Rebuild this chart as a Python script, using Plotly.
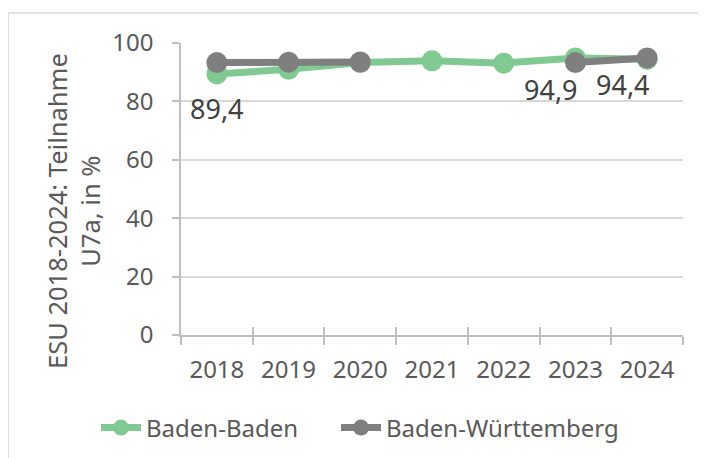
import plotly.graph_objects as go

years = ["2018", "2019", "2020", "2021", "2022", "2023", "2024"]
baden_baden = [89.4, 91.0, 93.3, 93.9, 93.1, 94.9, 94.4]
baden_wuerttemberg = [93.3, 93.4, 93.5, None, None, 93.3, 94.9]
label_years = ["2018", "2023", "2024"]
label_values = [89.4, 94.9, 94.4]
label_texts = ["89,4", "94,9", "94,4"]
y_ticks = [0, 20, 40, 60, 80, 100]

GREEN = "#80C992"
GREY = "#7F7F7F"
FONT = "Noto Sans"
AXIS_COL = "#BFBFBF"
GRID_COL = "#D9D9D9"

# page has an 8px body margin; plot area in page pixels: x 181..683, y 43..335
OFF = 8
PX0, PX1, PY0, PY1 = 181, 683, 43, 335
W, H = 706 - OFF, 458 - OFF


def px(x):
    return (x - PX0) / (PX1 - PX0)


def py(y):
    return (PY1 - y) / (PY1 - PY0)


fig = go.Figure()
fig.add_trace(go.Scatter(
    x=years, y=baden_baden, name="Baden-Baden", mode="lines+markers",
    line=dict(color=GREEN, width=7), marker=dict(color=GREEN, size=21),
    connectgaps=False, hoverinfo="skip", legend="legend"))
fig.add_trace(go.Scatter(
    x=years, y=baden_wuerttemberg, name="Baden-Württemberg", mode="lines+markers",
    line=dict(color=GREY, width=7), marker=dict(color=GREY, size=21),
    connectgaps=False, hoverinfo="skip", legend="legend2"))
# helper trace for the inward half of the crossing x ticks
fig.add_trace(go.Scatter(x=years, y=[None] * len(years), xaxis="x2",
                         showlegend=False, hoverinfo="skip", mode="lines"))

# label placement style (anchor, horizontal / vertical pixel shift)
label_style = [("center", 0, -14), ("right", 5, -11), ("right", 5, -5)]
for yr, v, t, (xa, dx, dy) in zip(label_years, label_values, label_texts, label_style):
    fig.add_annotation(x=years.index(yr), y=v, text=t, showarrow=False,
                       xref="x", yref="y", xanchor=xa, yanchor="top",
                       xshift=dx, yshift=dy,
                       font=dict(family=FONT, size=27, color="#404040"))

fig.add_annotation(text="ESU 2018-2024: Teilnahme<br>U7a, in %", textangle=-90,
                   xref="paper", yref="paper", x=px(73), y=py(211),
                   xanchor="center", yanchor="middle", showarrow=False,
                   font=dict(family=FONT, size=25.5, color="#595959"))

legend_common = dict(orientation="h", xanchor="left", y=py(428), yanchor="middle",
                     font=dict(family=FONT, size=24, color="#595959"),
                     itemwidth=40, bgcolor="rgba(0,0,0,0)")

fig.update_layout(
    width=W, height=H,
    margin=dict(l=PX0 - OFF, r=W - (PX1 - OFF), t=PY0 - OFF, b=H - (PY1 - OFF),
                pad=0, autoexpand=False),
    paper_bgcolor="white", plot_bgcolor="white",
    font=dict(family=FONT, size=24, color="#595959"),
    showlegend=True,
    legend=dict(x=px(96), **legend_common),
    legend2=dict(x=px(336), **legend_common),
    xaxis=dict(type="category", categoryorder="array", categoryarray=years,
               range=[-0.5, 6.5], showgrid=False, showline=True, linecolor=AXIS_COL,
               linewidth=1.5, ticks="outside", ticklen=8, tickcolor=AXIS_COL,
               tickwidth=1.5, tickson="boundaries", ticklabelstandoff=12,
               tickfont=dict(family=FONT, size=24, color="#595959"), zeroline=False),
    xaxis2=dict(type="category", categoryorder="array", categoryarray=years,
                range=[-0.5, 6.5], overlaying="x", anchor="y", side="bottom",
                showgrid=False, showline=False, ticks="inside", ticklen=8,
                tickcolor=AXIS_COL, tickwidth=1.5, tickson="boundaries",
                showticklabels=False),
    yaxis=dict(range=[0, 100], tickvals=y_ticks, showgrid=True, gridcolor=GRID_COL,
               gridwidth=1.5, showline=True, linecolor=AXIS_COL, linewidth=1.5,
               ticks="outside", ticklen=7, tickcolor=AXIS_COL, tickwidth=1.5,
               ticklabelstandoff=14, zeroline=False,
               tickfont=dict(family=FONT, size=24, color="#595959")),
)

# outer frame lines (top and left only, as in the reference)
fig.add_shape(type="line", xref="paper", yref="paper", x0=px(8), x1=px(720),
              y0=py(13), y1=py(13), line=dict(color="#D9D9D9", width=1.5))
fig.add_shape(type="line", xref="paper", yref="paper", x0=px(8), x1=px(8),
              y0=py(13), y1=py(470), line=dict(color="#D9D9D9", width=1.5))

fig.write_html("out.html")
